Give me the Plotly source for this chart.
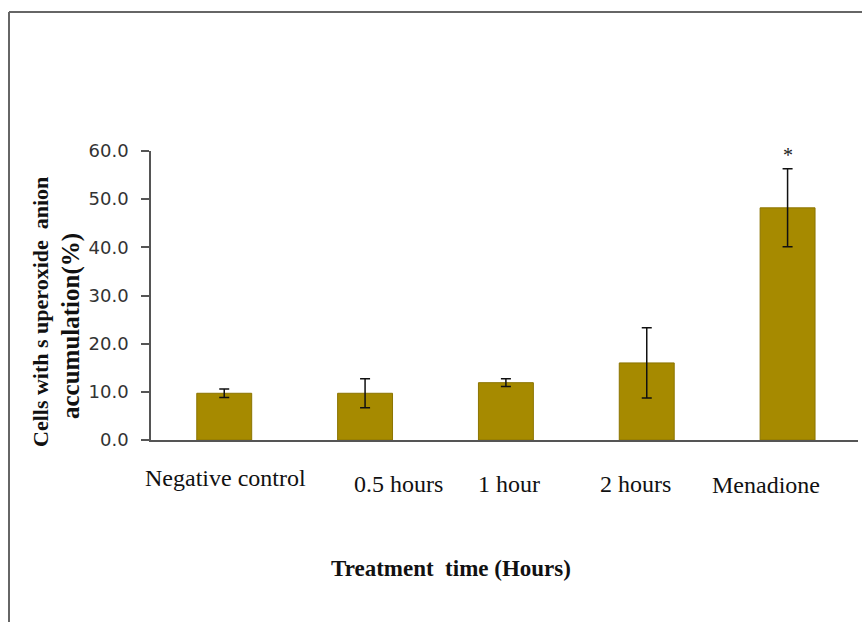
import plotly.graph_objects as go

categories = ["Negative control", "0.5 hours", "1 hour", "2 hours", "Menadione"]
values = [9.7, 9.7, 11.9, 16.0, 48.2]
errors = [0.9, 3.0, 0.8, 7.3, 8.1]
label_offsets = [1, 33, 3, -11, -22]   # pixel nudges of category labels
label_yshift = [0, -6, -6, -6, -7]
y_ticks = [0, 10, 20, 30, 40, 50, 60]

W, H = 862, 622
L, R, T, B = 151, 4, 151, 182
pw, ph = W - L - R, H - T - B

def px(x):
    return (x - L) / pw

def py(y):
    return (H - B - y) / ph

bar_color = "#A68A00"

fig = go.Figure()
fig.add_trace(go.Bar(
    x=categories, y=values, width=0.39,
    marker=dict(color=bar_color, line=dict(color="#8C7400", width=1)),
    error_y=dict(type="data", array=errors, visible=True, color="#111111",
                 thickness=1.5, width=5),
    showlegend=False,
))

annotations = []
for i, c in enumerate(categories):
    annotations.append(dict(
        x=c, xref="x", y=0, yref="y", text=c, showarrow=False,
        xshift=label_offsets[i], yshift=-38 + label_yshift[i],
        font=dict(family="Liberation Serif", size=24, color="#111111"),
    ))
# significance marker
annotations.append(dict(
    x=categories[4], xref="x", y=values[4] + errors[4], yref="y",
    text="*", showarrow=False, yshift=14,
    font=dict(family="Liberation Serif", size=20, color="#222222"),
))
# axis titles
annotations.append(dict(
    x=px(451), xref="paper", y=py(568), yref="paper",
    xanchor="center", yanchor="middle",
    text="<b>Treatment  time (Hours)</b>", showarrow=False,
    font=dict(family="Liberation Serif", size=23, color="#111111"),
))
annotations.append(dict(
    x=px(40), xref="paper", y=py(312), yref="paper", textangle=-90,
    xanchor="center", yanchor="middle",
    text="<b>Cells with s uperoxide  anion</b>", showarrow=False,
    font=dict(family="Liberation Serif", size=22, color="#111111"),
))
annotations.append(dict(
    x=px(71), xref="paper", y=py(326), yref="paper", textangle=-90,
    xanchor="center", yanchor="middle",
    text="<b>accumulation(%)</b>", showarrow=False,
    font=dict(family="Liberation Serif", size=25, color="#111111"),
))

shapes = [
    dict(type="line", xref="paper", yref="paper", x0=px(9), y0=py(12), x1=px(862), y1=py(12),
         line=dict(color="#666666", width=2)),
    dict(type="line", xref="paper", yref="paper", x0=px(9), y0=py(12), x1=px(9), y1=py(622),
         line=dict(color="#666666", width=2)),
]

fig.update_layout(
    width=W, height=H,
    margin=dict(l=L, r=R, t=T, b=B),
    paper_bgcolor="white", plot_bgcolor="white",
    annotations=annotations, shapes=shapes,
    bargap=0.61,
)
fig.update_xaxes(
    showticklabels=False, showline=True, linecolor="#555555", linewidth=1.5,
    ticks="", showgrid=False, zeroline=False, range=[-0.52, 4.5],
)
fig.update_yaxes(
    range=[0, 60], tickvals=y_ticks, tickformat=".1f",
    showline=True, linecolor="#555555", linewidth=1.5,
    ticks="outside", ticklen=8, tickcolor="#555555", tickwidth=1.5,
    showgrid=False, zeroline=False,
    tickfont=dict(family="DejaVu Sans", size=18, color="#333333"),
    ticklabelstandoff=9,
)

fig.write_html("out.html")
